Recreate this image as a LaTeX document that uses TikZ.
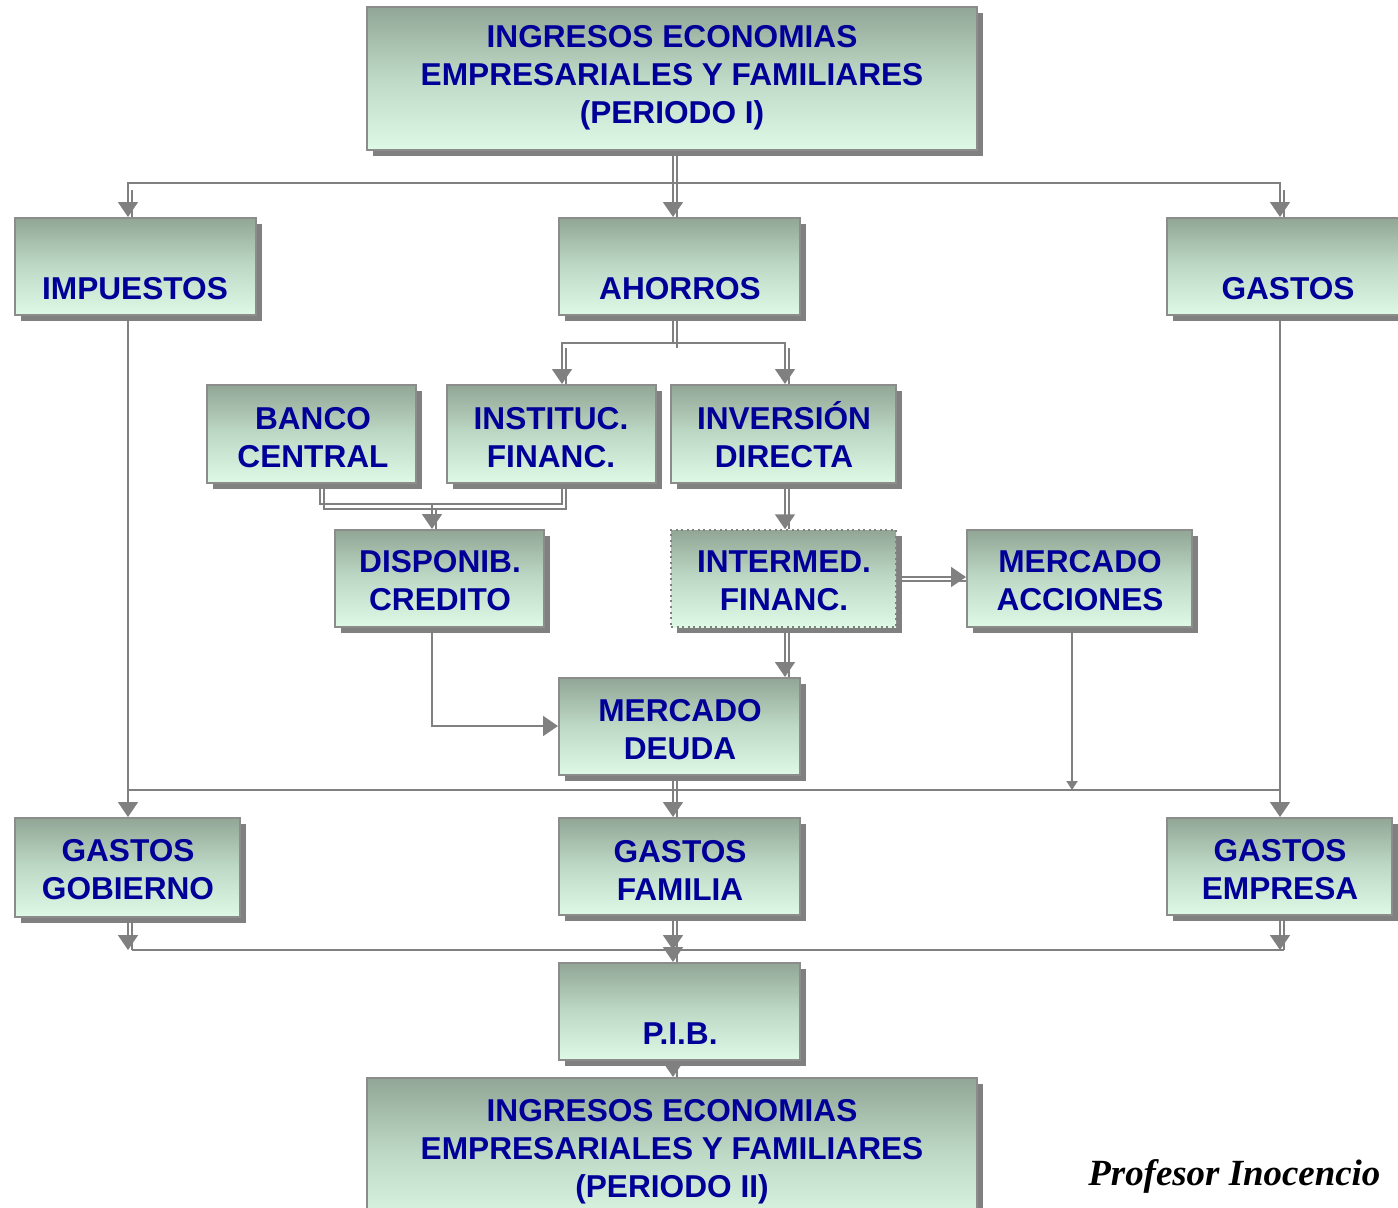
\documentclass[tikz,border=0pt]{standalone}
\usepackage{fontspec}
\setmainfont{Liberation Sans}
\newfontfamily\sigfont{Liberation Serif}
\usetikzlibrary{arrows.meta,shadows,fit}
\definecolor{navytext}{RGB}{0,0,153}
\definecolor{linegray}{RGB}{128,128,128}
\definecolor{bordergray}{RGB}{140,140,140}
\definecolor{shadegray}{RGB}{128,128,128}
\definecolor{topg}{RGB}{146,166,150}
\definecolor{midg}{RGB}{190,218,198}
\definecolor{botg}{RGB}{222,250,230}
\tikzset{
  box/.style={draw=bordergray, line width=0.04cm, inner sep=0pt,
    top color=topg, bottom color=botg, middle color=midg,
    drop shadow={shadow xshift=0.12cm, shadow yshift=-0.12cm, fill=shadegray, opacity=1}},
  dotbox/.style={box, draw=linegray, dotted, line width=0.03cm},
  lbl/.style={align=center, text=navytext, inner sep=0pt,
    font=\fontsize{18}{21.6}\selectfont\bfseries},
  conn/.style={draw=linegray, line width=0.035cm},
  tip/.style={-{Triangle[width=0.4cm,length=0.3cm]}},
  smalltip/.style={-{Triangle[width=0.22cm,length=0.18cm]}}
}
\begin{document}
\begin{tikzpicture}[x=0.02cm, y=-0.02cm]
\useasboundingbox (0,0) rectangle (1398,1207);
% boxes
\node[box, fit={(367,7)(977,150)}] (top) {};
\node[box, fit={(15,218)(256,315)}] (impuestos) {};
\node[box, fit={(559,218)(800,315)}] (ahorros) {};
\node[box, fit={(1167,218)(1410,315)}] (gastos) {};
\node[box, fit={(207,385)(416,483)}] (banco) {};
\node[box, fit={(447,385)(656,483)}] (instituc) {};
\node[box, fit={(671,385)(896,483)}] (inversion) {};
\node[box, fit={(335,530)(544,627)}] (disponib) {};
\node[dotbox, fit={(671,530)(896,627)}] (intermed) {};
\node[box, fit={(967,530)(1192,627)}] (acciones) {};
\node[box, fit={(559,678)(800,775)}] (deuda) {};
\node[box, fit={(15,818)(240,917)}] (gobierno) {};
\node[box, fit={(559,818)(800,915)}] (familia) {};
\node[box, fit={(1167,818)(1392,915)}] (empresa) {};
\node[box, fit={(559,963)(800,1060)}] (pib) {};
\node[box, fit={(367,1078)(977,1230)}] (bottom) {};
% labels
\node[lbl] (t-top) at (672,78) {INGRESOS ECONOMIAS\\EMPRESARIALES Y FAMILIARES\\(PERIODO I)};
\node[lbl] (t-imp) at (135,289) {IMPUESTOS};
\node[lbl] (t-aho) at (680,289) {AHORROS};
\node[lbl] (t-gas) at (1288,289) {GASTOS};
\node[lbl] (t-ban) at (313,438) {BANCO\\CENTRAL};
\node[lbl] (t-ins) at (551,438) {INSTITUC.\\FINANC.};
\node[lbl] (t-inv) at (784,435) {INVERSIÓN\\DIRECTA};
\node[lbl] (t-dis) at (440,581) {DISPONIB.\\CREDITO};
\node[lbl] (t-int) at (784,581) {INTERMED.\\FINANC.};
\node[lbl] (t-acc) at (1080,581) {MERCADO\\ACCIONES};
\node[lbl] (t-deu) at (680,730) {MERCADO\\DEUDA};
\node[lbl] (t-gob) at (128,870) {GASTOS\\GOBIERNO};
\node[lbl] (t-fam) at (680,870) {GASTOS\\FAMILIA};
\node[lbl] (t-emp) at (1280,870) {GASTOS\\EMPRESA};
\node[lbl] (t-pib) at (680,1034) {P.I.B.};
\node[lbl] (t-bot) at (672,1152) {INGRESOS ECONOMIAS\\EMPRESARIALES Y FAMILIARES\\(PERIODO II)};
\node[anchor=base west, inner sep=0pt, font=\sigfont\fontsize{21}{25}\selectfont\bfseries\itshape] (sig) at (1088,1185) {Profesor Inocencio};
% guide coordinates
\coordinate (xL) at (128,0); \coordinate (xLb) at (132,0);
\coordinate (xC) at (673,0); \coordinate (xCb) at (677,0);
\coordinate (xR) at (1280,0); \coordinate (xRb) at (1284,0);
\coordinate (xI) at (562,0); \coordinate (xIb) at (566,0);
\coordinate (xV) at (785,0); \coordinate (xVb) at (789,0);
\coordinate (xB) at (320,0); \coordinate (xBb) at (324,0);
\coordinate (xD) at (432,0); \coordinate (xDb) at (436,0);
\coordinate (xM) at (1072,0);
\coordinate (y1) at (0,183); \coordinate (y1b) at (0,190);
\coordinate (y2) at (0,343); \coordinate (y2b) at (0,348);
\coordinate (y3) at (0,504); \coordinate (y3b) at (0,509);
\coordinate (yA) at (0,577); \coordinate (yAb) at (0,581);
\coordinate (y6) at (0,726);
\coordinate (y4) at (0,790);
\coordinate (y5) at (0,950);
% top -> row 1
\draw[conn,tip] (xC |- top.south) -- (xC |- ahorros.north);
\draw[conn] (xCb |- top.south) -- (xCb |- ahorros.north);
\draw[conn,tip] (xC |- y1) -| (xL |- impuestos.north);
\draw[conn] (xLb |- y1b) -- (xLb |- impuestos.north);
\draw[conn,tip] (xC |- y1) -| (xR |- gastos.north);
\draw[conn] (xRb |- y1b) -- (xRb |- gastos.north);
% ahorros -> instituc, inversion
\draw[conn] (xC |- ahorros.south) -- (xC |- y2);
\draw[conn] (xCb |- ahorros.south) -- (xCb |- y2b);
\draw[conn,tip] (xC |- y2) -| (xI |- instituc.north);
\draw[conn] (xIb |- y2b) -- (xIb |- instituc.north);
\draw[conn,tip] (xC |- y2) -| (xV |- inversion.north);
\draw[conn] (xVb |- y2b) -- (xVb |- inversion.north);
% banco, instituc -> disponib
\draw[conn] (xB |- banco.south) |- (xI |- y3) -- (xI |- instituc.south);
\draw[conn] (xBb |- banco.south) |- (xIb |- y3b) -- (xIb |- instituc.south);
\draw[conn,tip] (xD |- y3) -- (xD |- disponib.north);
\draw[conn] (xDb |- y3b) -- (xDb |- disponib.north);
% inversion -> intermed
\draw[conn,tip] (xV |- inversion.south) -- (xV |- intermed.north);
\draw[conn] (xVb |- inversion.south) -- (xVb |- intermed.north);
% intermed -> acciones
\draw[conn,tip] (intermed.east |- yA) -- (acciones.west |- yA);
\draw[conn] (intermed.east |- yAb) -- (acciones.west |- yAb);
% intermed -> deuda
\draw[conn,tip] (xV |- intermed.south) -- (xV |- deuda.north);
\draw[conn] (xVb |- intermed.south) -- (xVb |- deuda.north);
% disponib -> deuda
\draw[conn,tip] (xD |- disponib.south) |- (deuda.west |- y6);
% row 1 -> gastos row
\draw[conn,tip] (xL |- impuestos.south) -- (xL |- gobierno.north);
\draw[conn,tip] (xR |- gastos.south) -- (xR |- empresa.north);
\draw[conn] (xL |- y4) -- (xR |- y4);
\draw[conn,smalltip] (xM |- acciones.south) -- (xM |- y4);
\draw[conn,tip] (xC |- deuda.south) -- (xC |- familia.north);
\draw[conn] (xCb |- deuda.south) -- (xCb |- familia.north);
% gastos row -> pib
\draw[conn,tip] (xL |- gobierno.south) -- (xL |- y5);
\draw[conn] (xLb |- gobierno.south) -- (xLb |- y5);
\draw[conn,tip] (xR |- empresa.south) -- (xR |- y5);
\draw[conn] (xRb |- empresa.south) -- (xRb |- y5);
\draw[conn] (xLb |- y5) -- (xRb |- y5);
\draw[conn,tip] (xC |- familia.south) -- (xC |- y5);
\draw[conn] (xCb |- familia.south) -- (xCb |- y5);
\draw[conn,tip] (xC |- y5) -- (xC |- pib.north);
\draw[conn] (xCb |- y5) -- (xCb |- pib.north);
% pib -> bottom
\draw[conn,tip] (xC |- pib.south) -- (xC |- bottom.north);
\draw[conn] (xCb |- pib.south) -- (xCb |- bottom.north);
\end{tikzpicture}
\end{document}
